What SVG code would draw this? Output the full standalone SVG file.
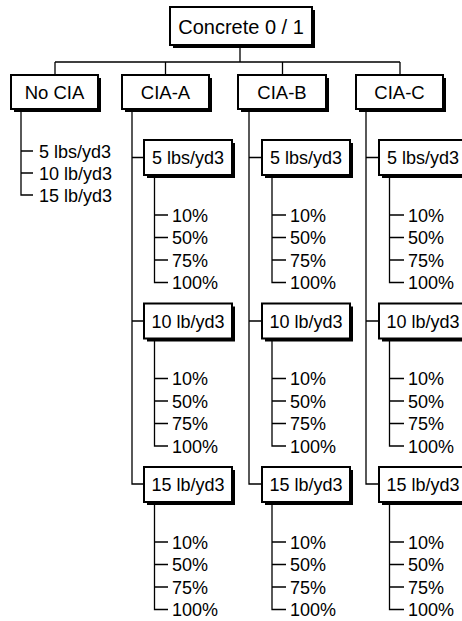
<svg xmlns="http://www.w3.org/2000/svg" width="462" height="621" viewBox="0 0 462 621">
<style>
.sh{fill:#000}
.bx{fill:#fff;stroke:#000;stroke-width:2}
.ln{fill:none;stroke:#000;stroke-width:1.3}
text{font-family:"Liberation Sans",Arial,sans-serif;fill:#000}
.h{font-size:20px;text-anchor:middle}
.l1{font-size:18.5px;text-anchor:middle}
.l2{font-size:18px;text-anchor:middle}
.t{font-size:18px}
</style>
<rect width="462" height="621" fill="#fff"/>
<g id="connectors">
<path class="ln" d="M240 45V62M55 62H400M55 62V75M165.5 62V75M282.5 62V75M400 62V75"/>
<path class="ln" d="M21 109V195H33M21 151H33M21 173H33"/>
<path class="ln" d="M132 109V484H144M132 157.5H144M132 321H144"/>
<path class="ln" d="M249 109V484H262M249 157.5H262M249 321H262"/>
<path class="ln" d="M366 109V484H379M366 157.5H379M366 321H379"/>
<path class="ln" d="M154.5 175V282.5H168M154.5 215H168M154.5 237.5H168M154.5 260H168"/>
<path class="ln" d="M154.5 338.5V446H168M154.5 378.5H168M154.5 401H168M154.5 423.5H168"/>
<path class="ln" d="M154.5 502V609.5H168M154.5 542H168M154.5 564.5H168M154.5 587H168"/>
<path class="ln" d="M272 175V282.5H286M272 215H286M272 237.5H286M272 260H286"/>
<path class="ln" d="M272 338.5V446H286M272 378.5H286M272 401H286M272 423.5H286"/>
<path class="ln" d="M272 502V609.5H286M272 542H286M272 564.5H286M272 587H286"/>
<path class="ln" d="M389.5 175V282.5H404M389.5 215H404M389.5 237.5H404M389.5 260H404"/>
<path class="ln" d="M389.5 338.5V446H404M389.5 378.5H404M389.5 401H404M389.5 423.5H404"/>
<path class="ln" d="M389.5 502V609.5H404M389.5 542H404M389.5 564.5H404M389.5 587H404"/>
</g>
<g id="root"><rect class="sh" x="173" y="10" width="142" height="38"/><rect class="bx" x="170" y="7" width="142" height="38"/><text class="h" x="241" y="33.5">Concrete 0 / 1</text></g>
<g id="nocia"><rect class="sh" x="14" y="78" width="87" height="34"/><rect class="bx" x="11" y="75" width="87" height="34"/><text class="l1" x="54.5" y="98.5">No CIA</text></g>
<g id="nocia-items"><text class="t" x="39" y="157.5">5 lbs/yd3</text><text class="t" x="39" y="179.5">10 lb/yd3</text><text class="t" x="39" y="201.5">15 lb/yd3</text></g>
<g id="ciaa"><rect class="sh" x="125" y="78" width="87" height="34"/><rect class="bx" x="122" y="75" width="87" height="34"/><text class="l1" x="165.5" y="98.5">CIA-A</text></g>
<g id="ciab"><rect class="sh" x="241" y="78" width="88" height="34"/><rect class="bx" x="238" y="75" width="88" height="34"/><text class="l1" x="282" y="98.5">CIA-B</text></g>
<g id="ciac"><rect class="sh" x="359" y="78" width="87" height="34"/><rect class="bx" x="356" y="75" width="87" height="34"/><text class="l1" x="399.5" y="98.5">CIA-C</text></g>
<g id="a5"><rect class="sh" x="147" y="143" width="88" height="35"/><rect class="bx" x="144" y="140" width="88" height="35"/><text class="l2" x="188" y="164">5 lbs/yd3</text></g>
<g id="a10"><rect class="sh" x="147" y="306.5" width="88" height="35"/><rect class="bx" x="144" y="303.5" width="88" height="35"/><text class="l2" x="188" y="327.5">10 lb/yd3</text></g>
<g id="a15"><rect class="sh" x="147" y="470" width="88" height="35"/><rect class="bx" x="144" y="467" width="88" height="35"/><text class="l2" x="188" y="491">15 lb/yd3</text></g>
<g id="b5"><rect class="sh" x="265" y="143" width="88" height="35"/><rect class="bx" x="262" y="140" width="88" height="35"/><text class="l2" x="306" y="164">5 lbs/yd3</text></g>
<g id="b10"><rect class="sh" x="265" y="306.5" width="88" height="35"/><rect class="bx" x="262" y="303.5" width="88" height="35"/><text class="l2" x="306" y="327.5">10 lb/yd3</text></g>
<g id="b15"><rect class="sh" x="265" y="470" width="88" height="35"/><rect class="bx" x="262" y="467" width="88" height="35"/><text class="l2" x="306" y="491">15 lb/yd3</text></g>
<g id="c5"><rect class="sh" x="382" y="143" width="88" height="35"/><rect class="bx" x="379" y="140" width="88" height="35"/><text class="l2" x="423" y="164">5 lbs/yd3</text></g>
<g id="c10"><rect class="sh" x="382" y="306.5" width="88" height="35"/><rect class="bx" x="379" y="303.5" width="88" height="35"/><text class="l2" x="423" y="327.5">10 lb/yd3</text></g>
<g id="c15"><rect class="sh" x="382" y="470" width="88" height="35"/><rect class="bx" x="379" y="467" width="88" height="35"/><text class="l2" x="423" y="491">15 lb/yd3</text></g>
<g id="pct-a">
<text class="t" x="172" y="221.5">10%</text><text class="t" x="172" y="244">50%</text><text class="t" x="172" y="266.5">75%</text><text class="t" x="172" y="289">100%</text>
<text class="t" x="172" y="385">10%</text><text class="t" x="172" y="407.5">50%</text><text class="t" x="172" y="430">75%</text><text class="t" x="172" y="452.5">100%</text>
<text class="t" x="172" y="548.5">10%</text><text class="t" x="172" y="571">50%</text><text class="t" x="172" y="593.5">75%</text><text class="t" x="172" y="616">100%</text>
</g>
<g id="pct-b">
<text class="t" x="290" y="221.5">10%</text><text class="t" x="290" y="244">50%</text><text class="t" x="290" y="266.5">75%</text><text class="t" x="290" y="289">100%</text>
<text class="t" x="290" y="385">10%</text><text class="t" x="290" y="407.5">50%</text><text class="t" x="290" y="430">75%</text><text class="t" x="290" y="452.5">100%</text>
<text class="t" x="290" y="548.5">10%</text><text class="t" x="290" y="571">50%</text><text class="t" x="290" y="593.5">75%</text><text class="t" x="290" y="616">100%</text>
</g>
<g id="pct-c">
<text class="t" x="408" y="221.5">10%</text><text class="t" x="408" y="244">50%</text><text class="t" x="408" y="266.5">75%</text><text class="t" x="408" y="289">100%</text>
<text class="t" x="408" y="385">10%</text><text class="t" x="408" y="407.5">50%</text><text class="t" x="408" y="430">75%</text><text class="t" x="408" y="452.5">100%</text>
<text class="t" x="408" y="548.5">10%</text><text class="t" x="408" y="571">50%</text><text class="t" x="408" y="593.5">75%</text><text class="t" x="408" y="616">100%</text>
</g>
</svg>
